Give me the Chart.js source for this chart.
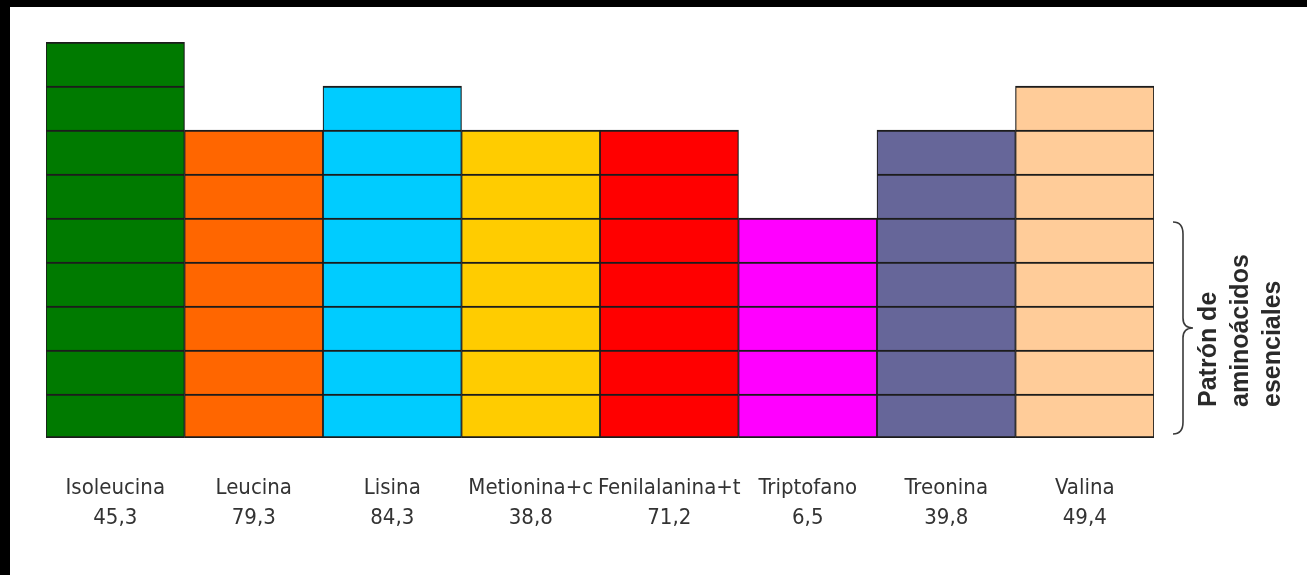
<!DOCTYPE html>
<html>
<head>
<meta charset="utf-8">
<script src="https://cdn.jsdelivr.net/npm/chart.js@4.4.1/dist/chart.umd.min.js"></script>
<style>
  html, body { margin: 0; padding: 0; background: #fff; }
  #wrap { width: 1307px; height: 575px; position: relative; }
</style>
</head>
<body>
<div id="wrap"><canvas id="c" width="1307" height="575"></canvas></div>
<script>
// ---- data ----
const categories = ['Isoleucina', 'Leucina', 'Lisina', 'Metionina+c', 'Fenilalanina+t', 'Triptofano', 'Treonina', 'Valina'];
const valueLabels = ['45,3', '79,3', '84,3', '38,8', '71,2', '6,5', '39,8', '49,4'];
const segments = [9, 7, 8, 7, 7, 5, 7, 8];          // number of stacked blocks per bar
const barColors = ['#007A00', '#FF6600', '#00CCFF', '#FFCC00', '#FF0000', '#FF00FF', '#666699', '#FFCC99'];
const braceLines = ['Patrón de', 'aminoácidos', 'esenciales'];
const braceLevels = 5;                                // brace spans the lowest 5 blocks

const maxLevel = Math.max(...segments);
const datasets = [];
for (let level = 1; level <= maxLevel; level++) {
  datasets.push({
    label: 'Bloque ' + level,
    data: segments.map(s => (s >= level ? 1 : null)),
    backgroundColor: barColors,
    borderColor: '#1c1c1c',
    borderWidth: level === 1 ? { top: 2, left: 1.2, right: 1.2, bottom: 2 } : { top: 2, left: 1.2, right: 1.2, bottom: 0 },
    borderSkipped: level === 1 ? false : 'start',
    categoryPercentage: 1,
    barPercentage: 1
  });
}

const framePlugin = {
  id: 'frame',
  beforeDraw(chart) {
    const ctx = chart.ctx;
    ctx.save();
    ctx.fillStyle = '#ffffff';
    ctx.fillRect(0, 0, chart.width, chart.height);
    ctx.fillStyle = '#000000';
    ctx.fillRect(0, 0, 10, chart.height);
    ctx.fillRect(0, 0, chart.width, 7);
    ctx.restore();
  }
};

const bracePlugin = {
  id: 'brace',
  afterDraw(chart) {
    const ctx = chart.ctx;
    const y = chart.scales.y;
    const area = chart.chartArea;
    const top = y.getPixelForValue(braceLevels) + 4;
    const bottom = y.getPixelForValue(0) - 4;
    const mid = (top + bottom) / 2;
    const x0 = area.right + 19;
    const xs = x0 + 10;
    const xt = x0 + 20;
    ctx.save();
    ctx.strokeStyle = '#3a3a3a';
    ctx.lineWidth = 1.6;
    ctx.beginPath();
    ctx.moveTo(x0, top);
    ctx.quadraticCurveTo(xs, top, xs, top + 12);
    ctx.lineTo(xs, mid - 10);
    ctx.quadraticCurveTo(xs, mid, xt, mid);
    ctx.quadraticCurveTo(xs, mid, xs, mid + 10);
    ctx.lineTo(xs, bottom - 12);
    ctx.quadraticCurveTo(xs, bottom, x0, bottom);
    ctx.stroke();

    ctx.fillStyle = '#2a2a2a';
    ctx.font = 'bold 25px "Liberation Sans", Arial, sans-serif';
    ctx.textAlign = 'left';
    ctx.textBaseline = 'middle';
    const startY = y.getPixelForValue(0) - 31;
    const cols = [area.right + 54, area.right + 86, area.right + 118];
    braceLines.forEach((t, i) => {
      ctx.save();
      ctx.translate(cols[i], startY);
      ctx.rotate(-Math.PI / 2);
      ctx.fillText(t, 0, 1);
      ctx.restore();
    });
    ctx.restore();
  }
};

new Chart(document.getElementById('c'), {
  type: 'bar',
  data: {
    labels: categories.map((c, i) => [c, valueLabels[i]]),
    datasets: datasets
  },
  options: {
    responsive: false,
    animation: false,
    events: [],
    layout: { padding: { left: 46, right: 153, top: 42, bottom: 0 } },
    plugins: { legend: { display: false }, tooltip: { enabled: false } },
    scales: {
      x: {
        stacked: true,
        grid: { display: false, drawTicks: false },
        border: { display: false },
        ticks: {
          color: '#333333',
          font: { family: '"DejaVu Sans Condensed", "DejaVu Sans", Verdana, sans-serif', size: 22, lineHeight: '30px' },
          padding: 35,
          maxRotation: 0,
          autoSkip: false
        },
        afterFit(scale) { scale.height = 137; }
      },
      y: {
        stacked: true,
        display: false,
        min: 0,
        max: maxLevel
      }
    }
  },
  plugins: [framePlugin, bracePlugin]
});
</script>
</body>
</html>
